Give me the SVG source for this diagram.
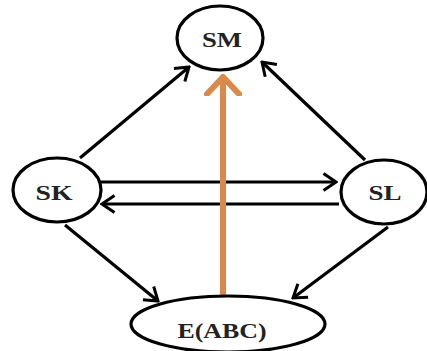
<svg xmlns="http://www.w3.org/2000/svg" width="427" height="351" viewBox="0 0 427 351">
<style>
.node{fill:#fff;stroke:#000;stroke-width:3.2}
.lbl{font-family:"Liberation Serif","Times New Roman",serif;font-weight:bold;font-size:21px;fill:#222;text-anchor:middle}
.edge{stroke:#000;stroke-width:3.2;fill:none}
.hl{stroke:#D98A4A;stroke-width:6;fill:none}
</style>
<defs>
<marker id="ah" viewBox="0 0 16 20" refX="14" refY="10" markerWidth="16" markerHeight="20" markerUnits="userSpaceOnUse" orient="auto">
<path d="M1.5,1.5 L14,10 L1.5,18.5" fill="none" stroke="#000" stroke-width="3"/>
</marker>
<marker id="ah2" viewBox="0 0 22 38" refX="19" refY="19" markerWidth="22" markerHeight="38" markerUnits="userSpaceOnUse" orient="auto">
<path d="M2,3 L19,19 L2,35" fill="none" stroke="#D98A4A" stroke-width="6" stroke-linecap="round"/>
</marker>
</defs>
<rect width="427" height="351" fill="#fff"/>
<g id="connectors">
<line class="edge" x1="80" y1="158" x2="189" y2="67" marker-end="url(#ah)"/>
<line class="edge" x1="365" y1="160" x2="262" y2="62" marker-end="url(#ah)"/>
<line class="edge" x1="100" y1="182" x2="336" y2="182" marker-end="url(#ah)"/>
<line class="edge" x1="339" y1="204" x2="102" y2="204" marker-end="url(#ah)"/>
<line class="edge" x1="65" y1="225" x2="158" y2="301" marker-end="url(#ah)"/>
<line class="edge" x1="388" y1="227" x2="293" y2="298" marker-end="url(#ah)"/>
<line class="hl" x1="223" y1="296" x2="223" y2="77" marker-end="url(#ah2)"/>
</g>
<g id="SM">
<ellipse class="node" cx="220" cy="38" rx="43" ry="32"/>
<text class="lbl" x="222" y="47" textLength="40" lengthAdjust="spacingAndGlyphs">SM</text>
</g>
<g id="SK">
<ellipse class="node" cx="57" cy="190" rx="44" ry="32"/>
<text class="lbl" x="54" y="200" textLength="37" lengthAdjust="spacingAndGlyphs">SK</text>
</g>
<g id="SL">
<ellipse class="node" cx="384" cy="192" rx="43" ry="32"/>
<text class="lbl" x="385" y="200" textLength="33" lengthAdjust="spacingAndGlyphs">SL</text>
</g>
<g id="EABC">
<ellipse class="node" cx="228" cy="324" rx="97" ry="28"/>
<text class="lbl" x="222" y="338" textLength="89" lengthAdjust="spacingAndGlyphs">E(ABC)</text>
</g>
</svg>
